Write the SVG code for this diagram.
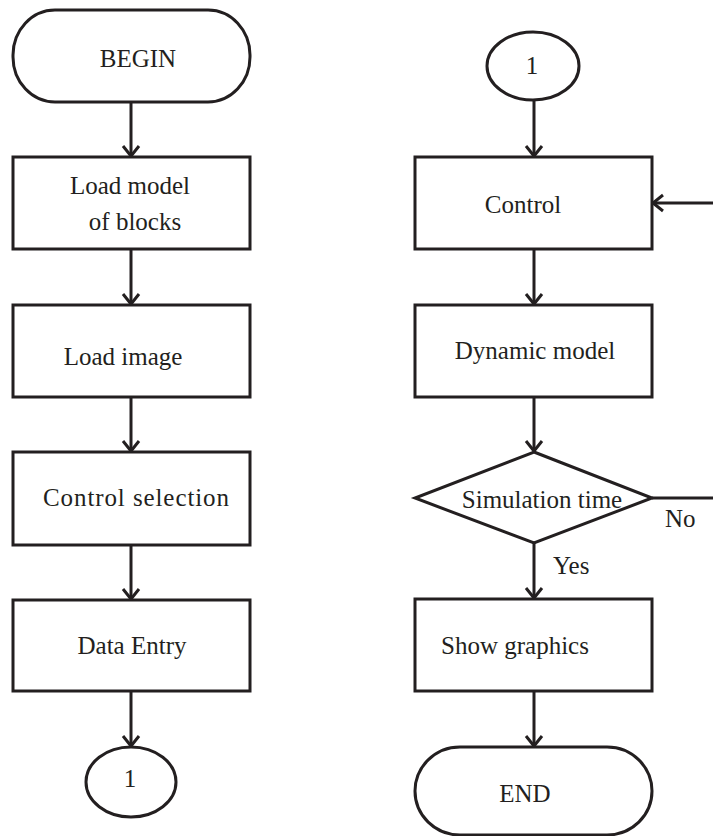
<svg xmlns="http://www.w3.org/2000/svg" width="713" height="836" viewBox="0 0 713 836">
<style>
.s{fill:#fff;stroke:#231f20;stroke-width:3}
.c{fill:none;stroke:#231f20;stroke-width:3}
.m{text-anchor:middle}
</style>
<defs>
<marker id="ah" markerUnits="userSpaceOnUse" markerWidth="24" markerHeight="24" viewBox="-12 -12 24 24" refX="0" refY="0" orient="auto">
<path d="M-10,-8 L0,0 L-10,8" fill="none" stroke="#231f20" stroke-width="3"/>
</marker>
</defs>
<rect width="713" height="836" fill="#fff"/>
<g font-family="'Liberation Serif', 'DejaVu Serif', 'Times New Roman', serif" font-size="25" fill="#231f20">
<g id="connectors">
<line class="c" x1="131" y1="102" x2="131" y2="156" marker-end="url(#ah)"/>
<line class="c" x1="131" y1="249" x2="131" y2="304" marker-end="url(#ah)"/>
<line class="c" x1="131" y1="397" x2="131" y2="451" marker-end="url(#ah)"/>
<line class="c" x1="131" y1="545" x2="131" y2="599" marker-end="url(#ah)"/>
<line class="c" x1="131" y1="691" x2="131" y2="746" marker-end="url(#ah)"/>
<line class="c" x1="534" y1="101" x2="534" y2="156" marker-end="url(#ah)"/>
<line class="c" x1="534" y1="249" x2="534" y2="304" marker-end="url(#ah)"/>
<line class="c" x1="534" y1="397" x2="534" y2="451" marker-end="url(#ah)"/>
<line class="c" x1="534" y1="543" x2="534" y2="598" marker-end="url(#ah)"/>
<line class="c" x1="534" y1="691" x2="534" y2="746" marker-end="url(#ah)"/>
<line class="c" x1="713" y1="203" x2="653" y2="203" marker-end="url(#ah)"/>
<line class="c" x1="652" y1="498" x2="713" y2="498"/>
<text x="665" y="527">No</text>
<text x="553" y="574">Yes</text>
</g>
<g id="begin"><rect class="s" x="13" y="10" width="237" height="92" rx="42" ry="45"/><text class="m" x="138" y="67">BEGIN</text></g>
<g id="load-model"><rect class="s" x="13" y="157" width="237" height="92"/><text class="m" x="130" y="194">Load model</text><text class="m" x="135" y="230">of blocks</text></g>
<g id="load-image"><rect class="s" x="13" y="305" width="237" height="92"/><text class="m" x="123" y="365">Load image</text></g>
<g id="control-selection"><rect class="s" x="13" y="452" width="237" height="93"/><text class="m" x="136" y="506" textLength="186">Control selection</text></g>
<g id="data-entry"><rect class="s" x="13" y="600" width="237" height="91"/><text class="m" x="132" y="654">Data Entry</text></g>
<g id="conn-left"><ellipse class="s" cx="131" cy="782" rx="45" ry="35"/><text class="m" x="130" y="787">1</text></g>
<g id="conn-right"><ellipse class="s" cx="533" cy="66" rx="46" ry="34"/><text class="m" x="532" y="74">1</text></g>
<g id="control"><rect class="s" x="415" y="157" width="237" height="92"/><text class="m" x="523" y="213">Control</text></g>
<g id="dynamic-model"><rect class="s" x="415" y="305" width="237" height="92"/><text class="m" x="535" y="359">Dynamic model</text></g>
<g id="sim-time"><polygon class="s" points="534,452 652,498 534,543 415,498"/><text class="m" x="542" y="508">Simulation time</text></g>
<g id="show-graphics"><rect class="s" x="415" y="599" width="237" height="92"/><text class="m" x="515" y="654">Show graphics</text></g>
<g id="end"><rect class="s" x="415" y="747" width="237" height="88" rx="45" ry="45"/><text class="m" x="525" y="802">END</text></g>
</g>
</svg>
